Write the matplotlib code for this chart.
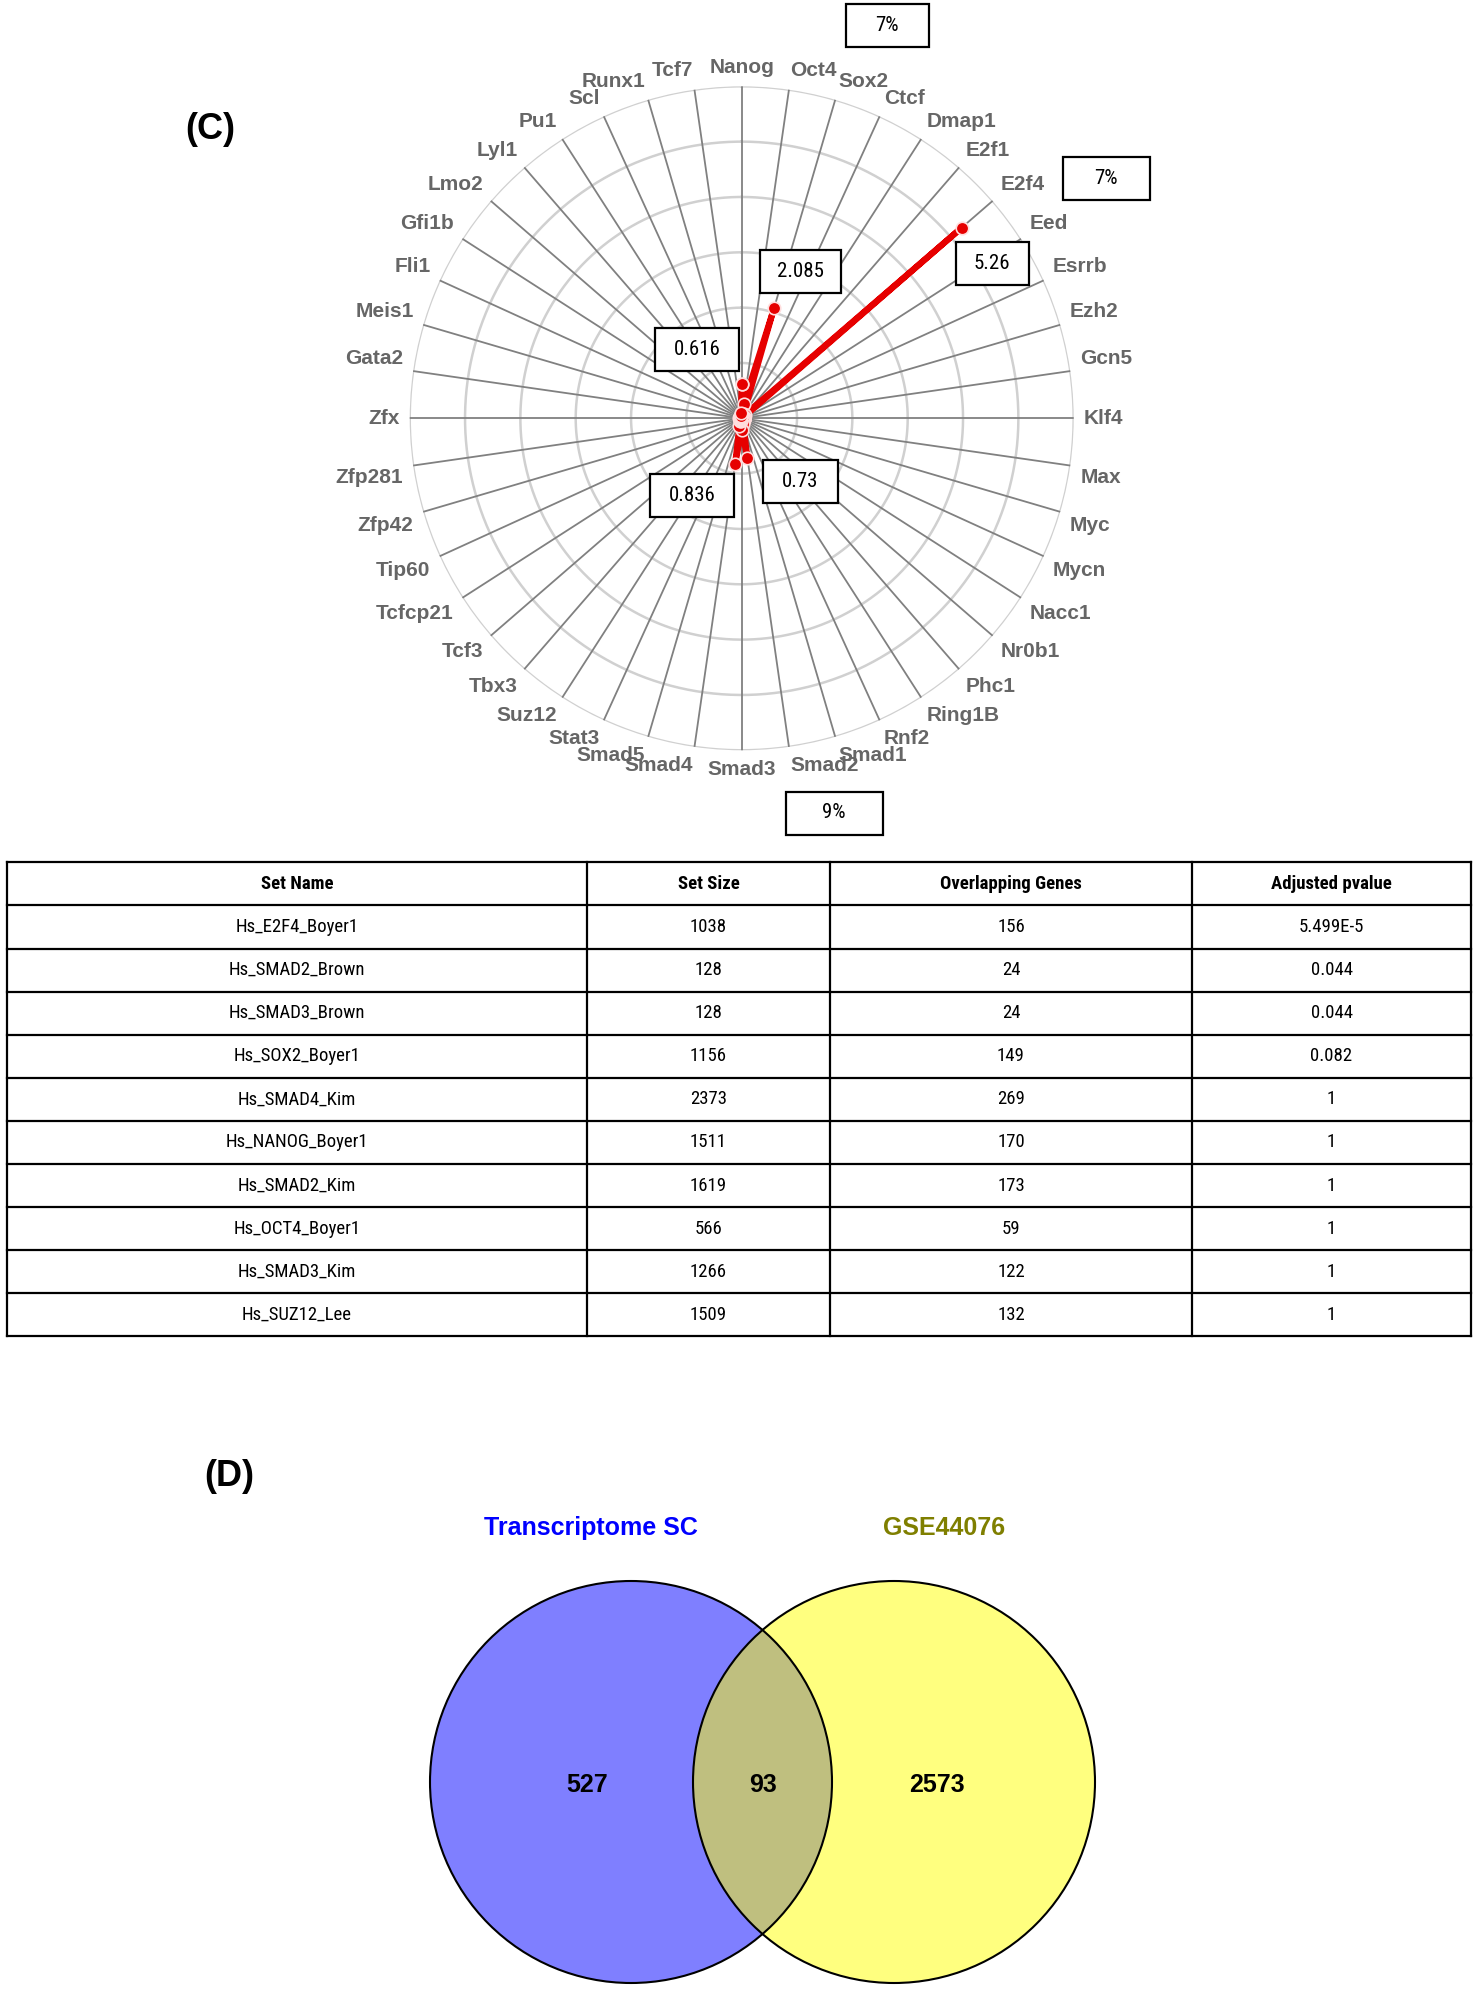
import matplotlib
matplotlib.use("Agg")
import matplotlib.pyplot as plt
import numpy as np
from matplotlib import font_manager
from matplotlib.patches import Circle, Rectangle

# --- data -------------------------------------------------------------------
tf_labels = [
    "Nanog", "Oct4", "Sox2", "Ctcf", "Dmap1", "E2f1", "E2f4", "Eed", "Esrrb",
    "Ezh2", "Gcn5", "Klf4", "Max", "Myc", "Mycn", "Nacc1", "Nr0b1", "Phc1",
    "Ring1B", "Rnf2", "Smad1", "Smad2", "Smad3", "Smad4", "Smad5", "Stat3",
    "Suz12", "Tbx3", "Tcf3", "Tcfcp21", "Tip60", "Zfp42", "Zfp281", "Zfx",
    "Gata2", "Meis1", "Fli1", "Gfi1b", "Lmo2", "Lyl1", "Pu1", "Scl", "Runx1",
    "Tcf7",
]
tf_scores = [
    0.616, 0.27, 2.085, 0.08, 0.05, 0.08, 5.26, 0.05, 0.05,
    0.04, 0.04, 0.04, 0.04, 0.04, 0.04, 0.04, 0.04, 0.05,
    0.05, 0.06, 0.10, 0.73, 0.22, 0.836, 0.15, 0.05,
    0.05, 0.04, 0.04, 0.04, 0.04, 0.04, 0.04, 0.04,
    0.04, 0.04, 0.04, 0.04, 0.04, 0.04, 0.05, 0.05, 0.05,
    0.10,
]

# value call-outs (text, centre x, centre y, box width) in figure pixels
callouts = [
    ("7%", 887, 25, 83),
    ("7%", 1106, 178, 87),
    ("9%", 834, 813, 97),
    ("2.085", 800, 271, 81),
    ("5.26", 992, 263, 73),
    ("0.616", 697, 349, 84),
    ("0.836", 692, 495, 84),
    ("0.73", 800, 481, 75),
]

table_header = ["Set Name", "Set Size", "Overlapping Genes", "Adjusted pvalue"]
set_names = [
    "Hs_E2F4_Boyer1", "Hs_SMAD2_Brown", "Hs_SMAD3_Brown", "Hs_SOX2_Boyer1",
    "Hs_SMAD4_Kim", "Hs_NANOG_Boyer1", "Hs_SMAD2_Kim", "Hs_OCT4_Boyer1",
    "Hs_SMAD3_Kim", "Hs_SUZ12_Lee",
]
set_sizes = ["1038", "128", "128", "1156", "2373", "1511", "1619", "566", "1266", "1509"]
overlapping = ["156", "24", "24", "149", "269", "170", "173", "59", "122", "132"]
adj_pvalues = ["5.499E-5", "0.044", "0.044", "0.082", "1", "1", "1", "1", "1", "1"]

venn_names = ["Transcriptome SC", "GSE44076"]
venn_counts = [527, 93, 2573]  # left only, shared, right only


def pick_font(names):
    for n in names:
        try:
            font_manager.findfont(n, fallback_to_default=False)
            return n
        except ValueError:
            pass
    return "DejaVu Sans"


ARIAL = pick_font(["Liberation Sans", "Arial"])
NARROW = pick_font(["Liberation Sans Narrow", "Roboto Condensed", "Liberation Sans"])

# --- figure -----------------------------------------------------------------
W, H = 1476, 1989
fig = plt.figure(figsize=(W / 100, H / 100), dpi=100)

# polar panel (C)
CX, CY, R = 741.7, 418.3, 332.0
RMAX = 6
pax = fig.add_axes([(CX - R) / W, 1 - (CY + R) / H, 2 * R / W, 2 * R / H],
                   projection="polar")
pax.set_theta_zero_location("N")
pax.set_theta_direction(-1)
pax.set_ylim(0, RMAX)
pax.axis("off")

n = len(tf_labels)
thetas = np.arange(n) * 2 * np.pi / n

ring_t = np.linspace(0, 2 * np.pi, 400)
for r in range(1, RMAX + 1):
    pax.plot(ring_t, np.full_like(ring_t, r), color="#d0d0d0", lw=1.8, zorder=1)
for th in thetas:
    pax.plot([th, th], [0, RMAX], color="#808080", lw=1.3, zorder=2)

pax.plot(np.append(thetas, thetas[0]), np.append(tf_scores, tf_scores[0]),
         color="#e60000", lw=4.4, marker="o", ms=9, mfc="#e60000",
         mec="#ffdede", mew=1.2, zorder=5, clip_on=False)

# spoke labels
for lab, th in zip(tf_labels, thetas):
    s, c = np.sin(th), np.cos(th)
    sgn = np.sign(c) if abs(c) > 0.05 else 0.0
    x = 342 * s
    y = 340 * c + 11 * sgn
    r_px = np.hypot(x, y)
    th2 = np.arctan2(x, y)
    if s > 0.02:
        ha = "left"
    elif s < -0.02:
        ha = "right"
    else:
        ha = "center"
    pax.text(th2, r_px * RMAX / R, lab, ha=ha, va="center", fontsize=15,
             fontweight="bold", color="#666666", family=ARIAL)

# overlay in pixel coordinates (drawn on top of the polar panel)
ov = fig.add_axes([0, 0, 1, 1])
ov.set_xlim(0, W)
ov.set_ylim(H, 0)
ov.axis("off")
ov.patch.set_visible(False)

ov.text(210, 129, "(C)", ha="center", va="center", fontsize=26,
        fontweight="bold", family=ARIAL)

for txt, bx, by, bw in callouts:
    bh = 43
    ov.add_patch(Rectangle((bx - bw / 2, by - bh / 2), bw, bh, fc="white",
                           ec="black", lw=1.6, zorder=6))
    ov.text(bx, by, txt, ha="center", va="center", fontsize=15, family=NARROW,
            zorder=7)

# --- table ------------------------------------------------------------------
col_edges = [6.6, 587, 830, 1192, 1471]
t_top, row_h = 862.3, 43.1
rows = [table_header] + [list(r) for r in zip(set_names, set_sizes, overlapping, adj_pvalues)]
n_rows = len(rows)
t_bot = t_top + n_rows * row_h
for k in range(n_rows + 1):
    ov.plot([col_edges[0], col_edges[-1]], [t_top + k * row_h] * 2,
            color="black", lw=1.6, solid_capstyle="projecting")
for xe in col_edges:
    ov.plot([xe, xe], [t_top, t_bot], color="black", lw=1.6,
            solid_capstyle="projecting")
for k, row in enumerate(rows):
    yc = t_top + (k + 0.5) * row_h
    for j, cell in enumerate(row):
        xc = (col_edges[j] + col_edges[j + 1]) / 2
        ov.text(xc, yc, cell, ha="center", va="center", fontsize=13.5,
                family=NARROW, fontweight="bold" if k == 0 else "normal")

# --- venn (D) ---------------------------------------------------------------
ov.text(229, 1476, "(D)", ha="center", va="center", fontsize=26,
        fontweight="bold", family=ARIAL)

vy, vr = 1782, 201
vx = [631, 894]
ov.add_patch(Circle((vx[0], vy), vr, fc=(0, 0, 1, 0.5), ec="none"))
ov.add_patch(Circle((vx[1], vy), vr, fc=(1, 1, 0, 0.5), ec="none"))
for x0 in vx:
    ov.add_patch(Circle((x0, vy), vr, fill=False, ec="black", lw=1.5))

ov.text(591, 1528, venn_names[0], ha="center", va="center", fontsize=18,
        fontweight="bold", color="#0000ff", family=ARIAL)
ov.text(944, 1528, venn_names[1], ha="center", va="center", fontsize=18,
        fontweight="bold", color="#7f7f00", family=ARIAL)

for cnt, x0 in zip(venn_counts, [587, 763, 937]):
    ov.text(x0, 1785, str(cnt), ha="center", va="center", fontsize=18,
            fontweight="bold", family=ARIAL)

fig.savefig("out.png", dpi=100)
